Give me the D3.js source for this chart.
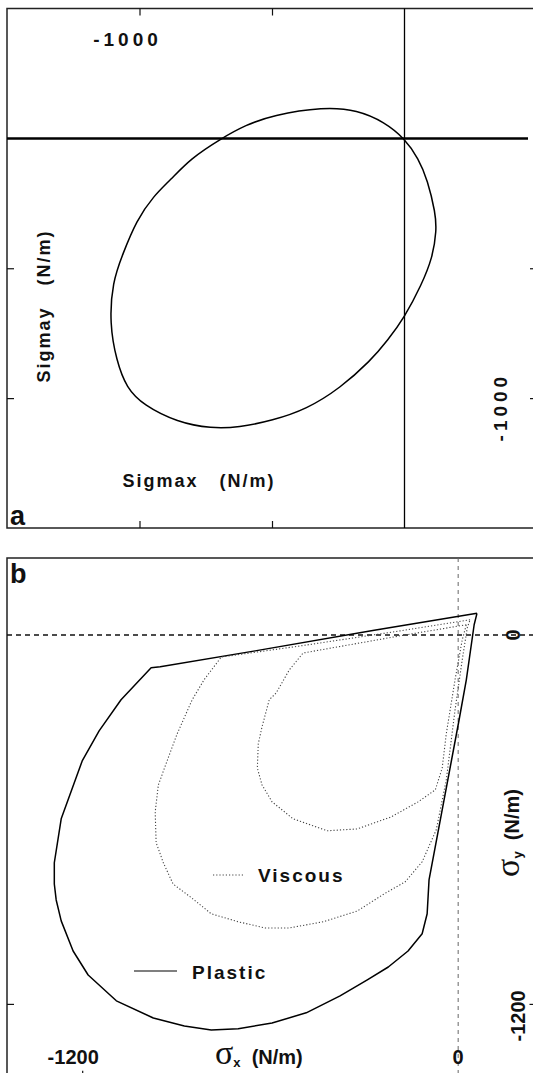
<!DOCTYPE html>
<html>
<head>
<meta charset="utf-8">
<script src="https://cdn.jsdelivr.net/npm/d3@7"></script>
<style>
  body { margin: 0; background: #fff; }
  svg { display: block; }
  text { font-family: "Liberation Sans", Arial, sans-serif; font-weight: bold; fill: #111; }
  .greek { font-family: "Liberation Serif", "DejaVu Serif", serif; font-weight: normal; }
</style>
</head>
<body>
<div id="chart"></div>
<script>
// Panel a: elliptical yield curve (sigma x, sigma y in N/m)
var ellipse = [[-691, 0], [-600, 51], [-498, 89], [-306, 121], [-177, 109], [-75, 62], [0, 0],
  [53, -78], [87, -160], [117, -288], [121, -354], [106, -459], [64, -564], [0, -689],
  [-64, -778], [-128, -856], [-242, -961], [-370, -1043], [-498, -1086], [-626, -1113],
  [-728, -1117], [-857, -1093], [-985, -1027], [-1049, -961], [-1087, -856], [-1113, -712],
  [-1102, -553], [-1064, -447], [-1011, -315], [-947, -222], [-883, -160], [-808, -78]];
var aTicks = [-1000, -500];
var aLabel = "-1000";

// Panel b: plastic and viscous yield curves
var plastic = [[60, 70], [-268, 15], [-648, -52], [-951, -104], [-980, -107], [-1076, -211],
  [-1146, -312], [-1200, -410], [-1267, -598], [-1289, -741], [-1289, -810], [-1283, -862],
  [-1267, -930], [-1229, -1028], [-1181, -1106], [-1091, -1190], [-973, -1246], [-874, -1272],
  [-788, -1285], [-702, -1281], [-594, -1262], [-485, -1229], [-377, -1174], [-290, -1122],
  [-223, -1080], [-160, -1028], [-115, -972], [-99, -907], [-93, -797], [3, -276], [26, -146],
  [51, 33], [60, 70]];
var viscousOuter = [[38, 49], [-185, 13], [-504, -36], [-756, -72], [-811, -146], [-849, -211],
  [-897, -322], [-929, -410], [-957, -488], [-967, -576], [-964, -676], [-941, -741],
  [-910, -810], [-855, -852], [-788, -907], [-702, -933], [-616, -953], [-539, -953],
  [-431, -933], [-322, -898], [-236, -842], [-169, -803], [-115, -738], [-70, -634],
  [-38, -472], [-10, -244], [13, -81], [29, 23], [38, 49]];
var viscousInner = [[26, 33], [-185, -3], [-495, -59], [-539, -114], [-581, -189], [-603, -211],
  [-626, -299], [-638, -354], [-641, -433], [-626, -488], [-594, -543], [-527, -598],
  [-418, -637], [-322, -631], [-214, -592], [-128, -543], [-73, -504], [-51, -433],
  [-38, -322], [-10, -146], [13, -16], [26, 33]];
var bTicks = [-1200];
var bLabels = ["-1200", "0"];
var legendNames = ["Viscous", "Plastic"];

var W = 533, H = 1073;
var svg = d3.select("#chart").append("svg").attr("width", W).attr("height", H);

// ---------- panel a ----------
var xa = d3.scaleLinear().domain([-1500, 500]).range([7, 537]);
var ya = d3.scaleLinear().domain([-1500, 500]).range([528, 8.5]);
var ga = svg.append("g");

ga.append("rect")
  .attr("x", xa(-1500)).attr("y", ya(500))
  .attr("width", xa(500) - xa(-1500)).attr("height", ya(-1500) - ya(500))
  .attr("fill", "none").attr("stroke", "#222").attr("stroke-width", 1.5);

// zero lines
ga.append("line")
  .attr("x1", xa(-1500)).attr("x2", 528).attr("y1", ya(0)).attr("y2", ya(0))
  .attr("stroke", "#000").attr("stroke-width", 2.5);
ga.append("line")
  .attr("x1", xa(0)).attr("x2", xa(0)).attr("y1", ya(500)).attr("y2", ya(-1500))
  .attr("stroke", "#000").attr("stroke-width", 1.3);

function ticks(g, axis, tx, ty) {
  g.append("g").attr("transform", "translate(" + tx + "," + ty + ")")
    .call(axis.tickSize(-7).tickSizeOuter(0).tickFormat(""))
    .call(function(s) { s.select(".domain").remove(); })
    .selectAll("line").attr("stroke", "#111").attr("stroke-width", 1.2);
}
ticks(ga, d3.axisTop(xa).tickValues(aTicks), 0, ya(500));
ticks(ga, d3.axisBottom(xa).tickValues(aTicks), 0, ya(-1500));
ticks(ga, d3.axisLeft(ya).tickValues(aTicks), xa(-1500), 0);
ticks(ga, d3.axisRight(ya).tickValues(aTicks), xa(500), 0);

var ellLine = d3.line()
  .x(function(d) { return xa(d[0]); })
  .y(function(d) { return ya(d[1]); })
  .curve(d3.curveBasisClosed);
ga.append("path").datum(ellipse).attr("d", ellLine)
  .attr("fill", "none").attr("stroke", "#000").attr("stroke-width", 1.5);

ga.append("text").attr("x", xa(-1000) - 12).attr("y", 46)
  .attr("text-anchor", "middle").style("font-size", "19px").style("letter-spacing", "4px")
  .text(aLabel);
ga.append("text").attr("transform", "translate(507," + (ya(-1000) + 9) + ") rotate(-90)")
  .attr("text-anchor", "middle").style("font-size", "19px").style("letter-spacing", "4px")
  .text(aLabel);
ga.append("text").attr("x", 199).attr("y", 487)
  .attr("text-anchor", "middle").style("font-size", "18px").style("letter-spacing", "2px")
  .attr("xml:space", "preserve").text("Sigmax   (N/m)");
ga.append("text").attr("transform", "translate(50,306) rotate(-90)")
  .attr("text-anchor", "middle").style("font-size", "18px").style("letter-spacing", "2px")
  .attr("xml:space", "preserve").text("Sigmay   (N/m)");
ga.append("text").attr("x", 10).attr("y", 525).style("font-size", "27px").text("a");

// ---------- panel b ----------
var xb = d3.scaleLinear().domain([-1440, 250]).range([7, 536.5]);
var yb = d3.scaleLinear().domain([-1440, 250]).range([1077.7, 558]);
var gb = svg.append("g");

gb.append("rect")
  .attr("x", xb(-1440)).attr("y", yb(250))
  .attr("width", xb(250) - xb(-1440)).attr("height", yb(-1440) - yb(250))
  .attr("fill", "none").attr("stroke", "#222").attr("stroke-width", 1.5);

gb.append("line")
  .attr("x1", xb(-1440)).attr("x2", W).attr("y1", yb(0)).attr("y2", yb(0))
  .attr("stroke", "#111").attr("stroke-width", 1.5).attr("stroke-dasharray", "5,4");
gb.append("line")
  .attr("x1", xb(0)).attr("x2", xb(0)).attr("y1", yb(250)).attr("y2", H)
  .attr("stroke", "#666").attr("stroke-width", 1).attr("stroke-dasharray", "4,4");

ticks(gb, d3.axisBottom(xb).tickValues(bTicks), 0, yb(-1440));
ticks(gb, d3.axisLeft(yb).tickValues(bTicks), xb(-1440), 0);
ticks(gb, d3.axisRight(yb).tickValues(bTicks), xb(250), 0);

var lineB = d3.line()
  .x(function(d) { return xb(d[0]); })
  .y(function(d) { return yb(d[1]); });

gb.append("path").datum(plastic).attr("d", lineB)
  .attr("fill", "none").attr("stroke", "#000").attr("stroke-width", 1.5)
  .attr("stroke-linejoin", "round");
[viscousOuter, viscousInner].forEach(function(c) {
  gb.append("path").datum(c).attr("d", lineB)
    .attr("fill", "none").attr("stroke", "#444").attr("stroke-width", 1.1)
    .attr("stroke-dasharray", "1.2,2");
});

// tick labels
gb.append("text").attr("x", xb(-1200) - 9).attr("y", 1064)
  .attr("text-anchor", "middle").style("font-size", "20px").text(bLabels[0]);
gb.append("text").attr("x", xb(0)).attr("y", 1064)
  .attr("text-anchor", "middle").style("font-size", "20px").text(bLabels[1]);
gb.append("text").attr("transform", "translate(520," + yb(0) + ") rotate(-90)")
  .attr("text-anchor", "middle").style("font-size", "20px").text(bLabels[1]);
gb.append("text").attr("transform", "translate(525," + (yb(-1200) + 12) + ") rotate(-90)")
  .attr("text-anchor", "middle").style("font-size", "20px").text(bLabels[0]);

// axis titles
var tx = gb.append("text").attr("x", 215).attr("y", 1064).style("font-size", "20px");
tx.append("tspan").attr("class", "greek").style("font-size", "34px").text("σ");
tx.append("tspan").attr("dy", 3).style("font-size", "13px").text("x");
tx.append("tspan").attr("dy", -3).attr("xml:space", "preserve").text("  (N/m)");

var ty = gb.append("text").attr("transform", "translate(519,833) rotate(-90)")
  .attr("text-anchor", "middle").style("font-size", "20px");
ty.append("tspan").attr("class", "greek").style("font-size", "34px").text("σ");
ty.append("tspan").attr("dy", 3).style("font-size", "13px").text("y");
ty.append("tspan").attr("dy", -3).attr("xml:space", "preserve").text("  (N/m)");

gb.append("text").attr("x", 10).attr("y", 583).style("font-size", "27px").text("b");

// legend
gb.append("line").attr("x1", 213).attr("x2", 245).attr("y1", 875).attr("y2", 875)
  .attr("stroke", "#444").attr("stroke-width", 1.1).attr("stroke-dasharray", "1.2,2");
gb.append("text").attr("x", 258).attr("y", 882).style("font-size", "19px")
  .style("letter-spacing", "2px").text(legendNames[0]);
gb.append("line").attr("x1", 134).attr("x2", 177).attr("y1", 971).attr("y2", 971)
  .attr("stroke", "#000").attr("stroke-width", 1.2);
gb.append("text").attr("x", 192).attr("y", 979).style("font-size", "19px")
  .style("letter-spacing", "2px").text(legendNames[1]);
</script>
</body>
</html>
